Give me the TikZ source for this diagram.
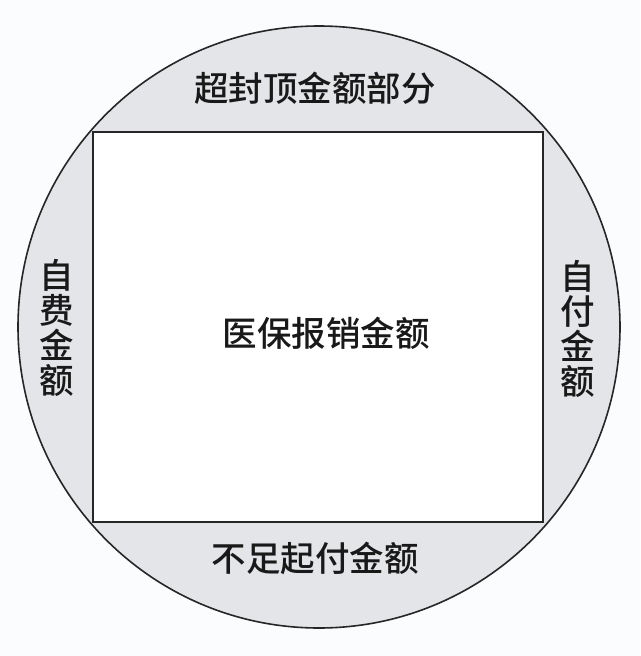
\documentclass[tikz,border=0pt]{standalone}
\usepackage{fontspec}
\newfontfamily\cjk[UprightFont=* Medium]{Noto Sans CJK SC}
\definecolor{bgc}{RGB}{251,252,253}
\definecolor{ringc}{RGB}{228,229,233}
\begin{document}
\begin{tikzpicture}[x=1pt,y=-1pt,
  lbl/.style={font=\cjk\fontsize{34.5}{35}\selectfont, text=black!90, inner sep=0pt},
  vlbl/.style={lbl, align=center},
  edge/.style={draw=black!85, line width=1.6pt}]
\useasboundingbox (0,0) rectangle (640,656);
\fill[bgc] (0,0) rectangle (640,656);
\node[circle, edge, fill=ringc, minimum size=602pt, inner sep=0pt] (ring) at (319,327) {};
\node[rectangle, edge, fill=white, minimum width=450pt, minimum height=390pt, inner sep=0pt] (box) at (318,327) {};
\node[lbl] (top) at (315,88) {超封顶金额部分};
\node[lbl] (bottom) at (315,558) {不足起付金额};
\node[lbl] (center) at (326,333) {医保报销金额};
\node[vlbl] (left) at (57,328) {自\\费\\金\\额};
\node[vlbl] (right) at (578,329) {自\\付\\金\\额};
\end{tikzpicture}
\end{document}
